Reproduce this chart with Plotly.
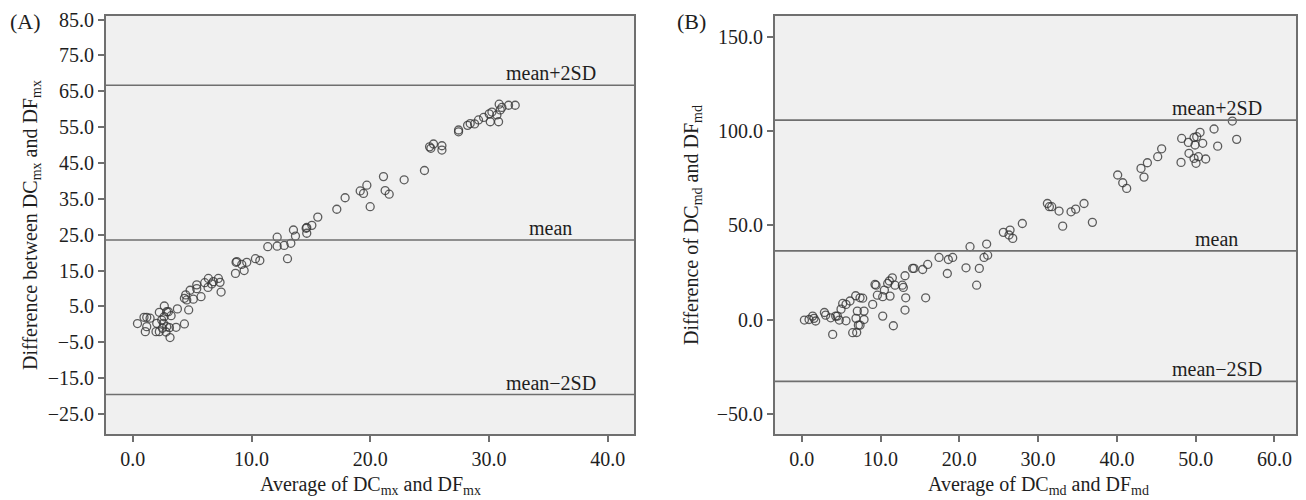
import plotly.graph_objects as go

# ---------------- Data ----------------
# Panel A: average vs difference (mx)
a_avg = [0.4, 0.95, 1.18, 1.06, 1.18, 1.46, 1.96, 2.02, 2.24, 2.24, 2.44, 2.5, 2.66, 2.64, 2.58,
         2.86, 2.86, 3.0, 2.8, 3.14, 3.23, 3.09, 3.76, 3.65, 4.35, 4.71, 4.35, 4.46, 4.83, 4.55,
         5.1, 5.39, 5.75, 5.39, 6.06, 6.37, 6.34, 6.65, 6.79, 7.21, 7.35, 7.44, 8.65, 8.7, 8.76,
         9.18, 9.38, 9.6, 10.33, 10.7, 11.37, 12.16, 12.16, 12.75, 13.03, 13.31, 13.7, 13.53,
         14.6, 14.65, 15.08, 15.58, 14.65, 17.18, 17.88, 19.15, 19.43, 19.71, 19.99, 21.11, 21.25,
         21.59, 22.85, 24.56, 24.99, 25.1, 25.32, 26.03, 26.03, 27.43, 27.43, 28.19, 28.41, 28.78,
         29.11, 29.54, 30.01, 30.1, 30.24, 30.66, 30.85, 30.8, 30.94, 31.08, 31.64, 32.2]
a_diff = [0.2, 1.95, 1.95, -2.05, -0.65, 1.7, -2.05, 0.28, 3.35, -2.05, 1.2, -1.1, 5.1, 2.1, 0.28,
          3.5, -0.65, 3.5, -2.15, -3.7, 2.4, -0.93, 4.3, -0.84, 0.1, 4.0, 7.25, 8.2, 9.5, 6.8,
          7.0, 9.95, 7.7, 11.0, 11.6, 12.8, 10.3, 11.25, 11.9, 12.8, 11.7, 9.0, 14.2, 17.3, 17.5,
          16.7, 15.0, 17.3, 18.3, 17.8, 21.65, 24.3, 21.8, 22.0, 18.3, 22.6, 24.6, 26.3,
          26.8, 25.4, 27.6, 29.9, 27.0, 32.1, 35.3, 37.2, 36.5, 38.8, 32.8, 41.2, 37.3,
          36.3, 40.3, 42.9, 49.5, 49.1, 50.3, 49.8, 48.6, 54.2, 53.7, 55.5, 56.0, 55.9,
          57.0, 57.7, 58.7, 56.5, 59.2, 58.4, 61.4, 56.5, 59.8, 60.5, 61.1, 61.1]
a_mean, a_upper, a_lower = 23.5, 66.7, -19.6

# Panel B: average vs difference (md)
b_avg = [0.34, 0.93, 1.39, 1.56, 1.77, 2.88, 3.04, 3.68, 3.93, 4.31, 4.52, 4.77, 4.99, 5.2, 5.62,
         5.62, 6.13, 6.47, 6.85, 6.98, 6.89, 7.06, 7.19, 7.4, 7.4, 7.74, 7.91, 7.91, 9.01, 9.3,
         9.43, 9.6, 10.28, 10.28, 10.49, 10.91, 11.12, 11.21, 11.5, 11.63, 11.84, 12.77, 12.9,
         13.2, 13.11, 13.11, 14.08, 14.25, 15.35, 15.73, 15.99, 17.43, 18.48, 18.61, 19.16, 20.85,
         21.36, 22.2, 22.54, 23.14, 23.47, 23.6, 25.59, 26.44, 26.31, 26.78, 28.0, 31.18, 31.43,
         31.73, 32.66, 33.12, 34.18, 34.77, 35.83, 36.89, 40.1, 40.74, 41.24, 43.06, 43.87, 43.44,
         45.18, 45.68, 48.22, 48.14, 49.07, 49.15, 49.79, 49.92, 50.13, 50.55, 50.89, 49.79,
         50.04, 50.34, 51.27, 52.33, 52.79, 54.65, 55.2]
b_diff = [-0.2, 0.1, 1.9, 0.7, -0.7, 3.8, 2.4, 1.0, -7.8, 1.9, 1.9, -0.2, 5.6, 8.6, -0.6,
          8.1, 9.9, -6.9, 12.7, -6.8, 0.7, 4.55, -2.9, -2.9, 11.6, 11.4, 4.55, 0.1, 8.1, 18.7,
          18.3, 13.0, 1.9, 12.2, 15.7, 19.2, 20.5, 12.5, 22.2, -3.2, 18.3, 18.3, 17.1,
          11.6, 5.1, 23.3, 27.2, 27.2, 26.6, 11.6, 29.3, 33.0, 24.5, 31.9, 33.0, 27.5,
          38.7, 18.3, 27.2, 33.0, 40.1, 34.2, 46.3, 47.5, 44.9, 43.1, 51.0, 61.6, 59.9,
          59.9, 57.6, 49.6, 57.2, 58.6, 61.6, 51.6, 76.7, 72.6, 69.6, 80.2, 83.2, 75.6,
          86.4, 90.6, 96.1, 83.4, 94.0, 88.2, 96.6, 92.6, 97.0, 99.3, 93.5, 85.5,
          82.9, 86.4, 85.2, 101.1, 92.0, 105.3, 95.6]
b_mean, b_upper, b_lower = 36.5, 105.8, -32.7

a_xticks = [0, 10, 20, 30, 40]
a_yticks = [-25, -15, -5, 5, 15, 25, 35, 45, 55, 65, 75, 85]
b_xticks = [0, 10, 20, 30, 40, 50, 60]
b_yticks = [-50, 0, 50, 100, 150]

a_xtitle = "Average of DC<sub>mx</sub> and DF<sub>mx</sub>"
a_ytitle = "Difference between DC<sub>mx</sub> and DF<sub>mx</sub>"
b_xtitle = "Average of DC<sub>md</sub> and DF<sub>md</sub>"
b_ytitle = "Difference of DC<sub>md</sub> and DF<sub>md</sub>"

# ---------------- Styling ----------------
FONT = "Liberation Serif"
FS = 20
LINE_COL = "#6f6f6f"
TXT = "#1e1e1e"
MARK_COL = "rgba(55,55,55,0.8)"

# figure size chosen so that, with the page's default 8px body margin, it fills the window
W, H = 1290, 492

fig = go.Figure()

marker = dict(symbol="circle-open", size=8, color=MARK_COL, line=dict(width=1.3, color=MARK_COL))
fig.add_trace(go.Scatter(x=a_avg, y=a_diff, mode="markers", marker=marker,
                         xaxis="x", yaxis="y", showlegend=False, hoverinfo="x+y"))
fig.add_trace(go.Scatter(x=b_avg, y=b_diff, mode="markers", marker=marker,
                         xaxis="x2", yaxis="y2", showlegend=False, hoverinfo="x+y"))

shapes = []
annotations = []
for xr, yr, vals, xlab in [("x", "y", (a_upper, a_mean, a_lower), 35.2),
                           ("x2", "y2", (b_upper, b_mean, b_lower), 52.7)]:
    names = ["mean+2SD", "mean", "mean\u22122SD"]
    for v, n in zip(vals, names):
        shapes.append(dict(type="line", xref=f"{xr} domain", yref=yr, x0=0, x1=1, y0=v, y1=v,
                           line=dict(color=LINE_COL, width=1.6), layer="above"))
        annotations.append(dict(text=n, x=xlab, y=v, xref=xr, yref=yr, xanchor="center",
                                yanchor="bottom", yshift=-1, showarrow=False,
                                font=dict(family=FONT, size=FS, color=TXT)))

for lab, cx in [("(A)", 17), ("(B)", 683)]:
    annotations.append(dict(text=lab, x=cx / W, y=1 - 14 / H, xref="paper", yref="paper",
                            xanchor="center", yanchor="middle", showarrow=False,
                            font=dict(family=FONT, size=FS + 2, color=TXT)))

# x-axis titles (placed as paper annotations for exact positioning)
for txt, cx in [(a_xtitle, 362), (b_xtitle, 1030)]:
    annotations.append(dict(text=txt, x=cx / W, y=1 - 477 / H, xref="paper", yref="paper",
                            xanchor="center", yanchor="middle", showarrow=False,
                            font=dict(family=FONT, size=FS, color=TXT)))

axis_common = dict(showline=True, linecolor=LINE_COL, linewidth=2, mirror=True,
                   ticks="outside", ticklen=6, tickwidth=1.5, tickcolor=LINE_COL,
                   showgrid=False, zeroline=False, tickformat=".1f", automargin=False,
                   tickfont=dict(family=FONT, size=FS, color=TXT))

ydom = [1 - 426 / H, 1 - 8 / H]
fig.update_layout(
    width=W, height=H,
    margin=dict(l=0, r=0, t=0, b=0, pad=0),
    paper_bgcolor="white",
    plot_bgcolor="#f0f0f0",
    shapes=shapes,
    annotations=annotations,
    xaxis=dict(domain=[98 / W, 626 / W], range=[-2.25, 42.2], tickvals=a_xticks, anchor="y",
               **axis_common),
    yaxis=dict(domain=ydom, range=[-30.6, 86.0], tickvals=a_yticks, anchor="x",
               title=dict(text=a_ytitle, standoff=5, font=dict(family=FONT, size=FS, color=TXT)),
               **axis_common),
    xaxis2=dict(domain=[767 / W, 1288 / W], range=[-3.39, 62.73], tickvals=b_xticks, anchor="y2",
                **axis_common),
    yaxis2=dict(domain=ydom, range=[-60.6, 161.0], tickvals=b_yticks, anchor="x2",
                title=dict(text=b_ytitle, standoff=13, font=dict(family=FONT, size=FS, color=TXT)),
                **axis_common),
)

fig.write_html("out.html")
